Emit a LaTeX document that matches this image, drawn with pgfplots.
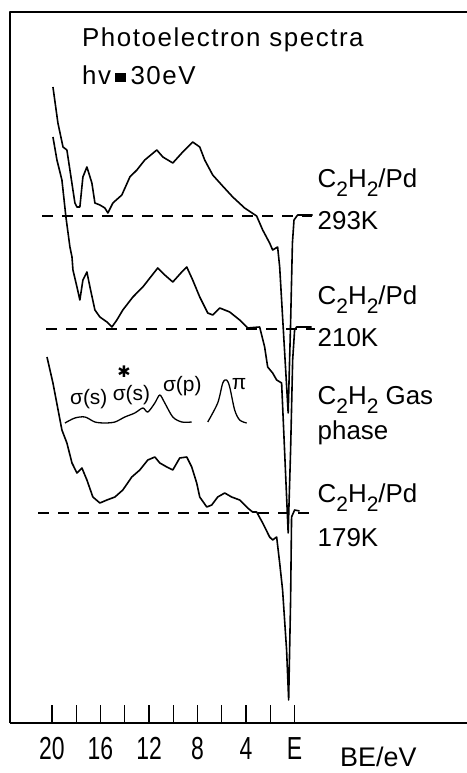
\documentclass[border=0pt]{standalone}
\usepackage{fontspec}
\setmainfont{Liberation Sans}
\newfontfamily\titlefont{Liberation Sans}[LetterSpace=6]
\newfontfamily\tickfont{Liberation Sans}[FakeStretch=0.72]
\newfontfamily\dejavu{DejaVu Sans}
\usepackage{graphicx}
\usepackage{pgfplots}
\pgfplotsset{compat=1.18}
\newcommand{\sub}[1]{\raisebox{-0.32em}{\fontsize{21}{21}\selectfont #1}}
\newcommand{\lbl}{\fontsize{26}{26}\selectfont}
\newcommand{\gk}{\fontsize{21}{21}\selectfont}
\begin{document}
\begin{tikzpicture}
\path[use as bounding box] (-10bp,-50bp) rectangle (457bp,723bp);
\begin{axis}[
  at={(0,0)}, anchor=south west,
  width=457bp, height=713bp, scale only axis,
  x dir=reverse, xmin=-14.21, xmax=23.46,
  ymin=0, ymax=713,
  axis x line*=bottom, axis y line=none,
  ytick=\empty,
  xtick={0,2,...,20}, xticklabels={E,,4,,8,,12,,16,,20},
  tick align=inside, major tick length=18bp,
  tick style={line width=1.3bp, black},
  x axis line style={line width=2.4bp},
  /pgf/number format/assume math mode=true,
  xticklabel style={font=\tickfont\fontsize{32}{32}\selectfont, yshift=-11bp},
  clip=false,
  cycle list={{black,mark=none}},
  every axis plot/.append style={line width=1.6bp, line join=round},
]
% frame: left and top
\addplot[black, mark=none, line width=2bp] coordinates {(23.46,0) (23.46,711) (-14.21,711)};

% C2H2/Pd 293K
\addplot[black, mark=none, line width=1.6bp] coordinates {(19.92,636) (19.51,600) (19.09,576) (18.77,573) (18.52,553) (18.11,520) (17.94,516) (17.70,516) (17.45,546) (17.12,556) (16.71,540) (16.46,520) (16.05,518) (15.64,515) (15.39,510) (14.98,520) (14.24,528) (13.58,546) (13.00,553) (12.35,563) (11.36,573) (10.86,566) (10.04,560) (9.22,571) (8.40,581) (7.82,576) (7.41,563) (6.75,548) (6.01,538) (5.10,526) (4.12,515) (3.13,507) (2.63,493) (2.06,480) (1.81,473) (1.40,476) (1.23,456) (0.53,310) (0.33,400) (0.18,480) (0.05,503) (-0.25,508) (-1.48,508)};

% C2H2/Pd 210K
\addplot[black, mark=none, line width=1.6bp] coordinates {(19.92,586) (19.59,563) (19.18,543) (18.85,506) (18.52,476) (18.35,466) (18.27,453) (17.94,436) (17.70,423) (17.45,443) (17.12,451) (16.87,436) (16.46,413) (16.05,406) (15.47,401) (15.06,396) (14.65,403) (14.16,413) (13.33,426) (12.51,436) (11.93,445) (11.28,455) (10.70,448) (10.04,441) (9.30,451) (8.89,456) (8.40,443) (7.82,426) (7.16,410) (6.75,408) (6.17,415) (5.35,411) (4.53,403) (3.87,395) (2.88,396) (2.47,376) (2.22,356) (1.81,350) (1.48,343) (1.07,340) (0.53,190) (0.33,273) (0.16,363) (0,393) (-0.16,396) (-1.40,396)};

% C2H2/Pd 179K
\addplot[black, mark=none, line width=1.6bp] coordinates {(20.41,366) (19.92,340) (19.18,293) (18.77,280) (18.35,260) (17.94,250) (17.53,255) (17.12,243) (16.63,226) (16.05,220) (15.47,223) (14.81,226) (14.16,233) (13.42,246) (12.76,253) (12.10,263) (11.52,266) (11.11,260) (10.53,256) (10.04,253) (9.47,265) (8.89,266) (8.48,256) (8.07,240) (7.82,226) (7.24,216) (6.83,218) (6.34,226) (5.76,230) (5.19,226) (4.53,223) (3.87,215) (3.46,211) (3.13,211) (2.63,200) (2.06,186) (1.81,183) (1.48,186) (1.23,160) (0.99,133) (0.66,73) (0.49,23) (0.33,123) (0.25,206) (0,213) (-0.41,212)};

% gas phase
\addplot[black, mark=none, line width=1.3bp, smooth] coordinates {(18.93,300) (18.11,305) (17.28,306) (16.46,301) (15.64,300) (14.81,301) (13.99,306) (13.17,310) (12.51,315) (12.10,311) (11.52,320) (11.11,328) (10.70,320) (10.04,306) (9.30,301) (8.48,301)};
\addplot[black, mark=none, line width=1.3bp, smooth] coordinates {(7.16,301) (6.34,320) (5.92,340) (5.60,343) (5.35,336) (4.94,313) (4.53,303) (3.95,300)};

% dashed baselines
\addplot[black, mark=none, line width=1.3bp, dash pattern=on 11bp off 9bp] coordinates {(20.82,507) (-1.40,507)};
\addplot[black, mark=none, line width=1.3bp, dash pattern=on 11bp off 9bp] coordinates {(20.49,394) (-1.65,394)};
\addplot[black, mark=none, line width=1.3bp, dash pattern=on 11bp off 9bp] coordinates {(21.15,210) (-1.23,210)};

% texts
\node[anchor=base west, inner sep=0] at (axis cs:17.53,676) {\titlefont\fontsize{26}{26}\selectfont Photoelectron spectra};
\node[anchor=base west, inner sep=0] at (axis cs:17.53,638) {\titlefont\fontsize{26}{26}\selectfont hv\,\rule[0.1em]{0.42em}{0.38em}\,30eV};

\node[anchor=base west, inner sep=0] at (axis cs:-1.89,535) {\lbl C\sub{2}H\sub{2}/Pd};
\node[anchor=base west, inner sep=0] at (axis cs:-1.89,493) {\lbl 293K};
\node[anchor=base west, inner sep=0] at (axis cs:-1.89,418) {\lbl C\sub{2}H\sub{2}/Pd};
\node[anchor=base west, inner sep=0] at (axis cs:-1.89,376) {\lbl 210K};
\node[anchor=base west, inner sep=0] at (axis cs:-1.89,318) {\lbl C\sub{2}H\sub{2} Gas};
\node[anchor=base west, inner sep=0] at (axis cs:-1.89,283) {\lbl phase};
\node[anchor=base west, inner sep=0] at (axis cs:-1.89,220) {\lbl C\sub{2}H\sub{2}/Pd};
\node[anchor=base west, inner sep=0] at (axis cs:-1.89,176) {\lbl 179K};

\node[anchor=base west, inner sep=0] at (axis cs:18.52,318) {\gk σ(s)};
\node[anchor=base west, inner sep=0] at (axis cs:15.00,322) {\gk σ(s)};
\node[anchor=center, inner sep=0] at (axis cs:14.05,351) {\dejavu\fontsize{16}{16}\selectfont ✱};
\node[anchor=base west, inner sep=0] at (axis cs:10.86,331) {\gk σ(p)};
\node[anchor=base west, inner sep=0] at (axis cs:5.19,333) {\gk π};

\node[anchor=base, inner sep=0] at (axis cs:-6.9,0) [yshift=-43bp] {\fontsize{27}{27}\selectfont BE/eV};
\end{axis}
\end{tikzpicture}
\end{document}
